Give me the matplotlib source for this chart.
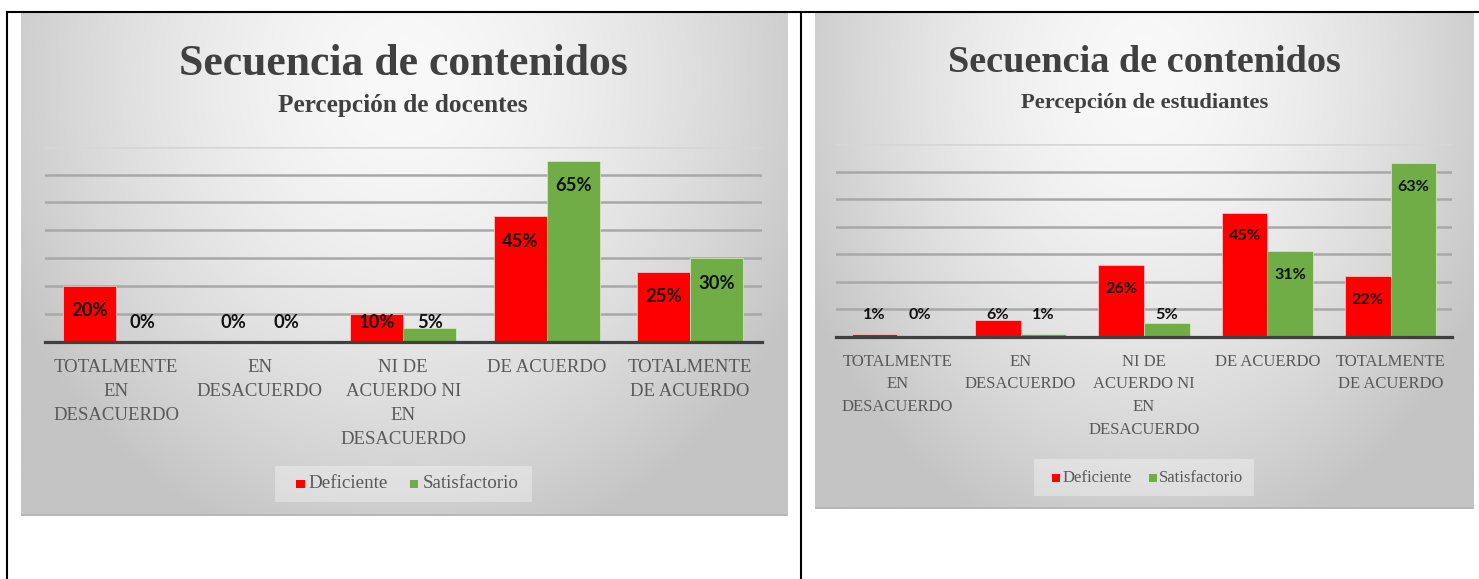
import numpy as np
import matplotlib
matplotlib.use("Agg")
import matplotlib.pyplot as plt
from matplotlib import font_manager
from matplotlib.lines import Line2D
from matplotlib.patches import Rectangle

# ------------------------------------------------------------------
# Data
# ------------------------------------------------------------------
categories = [
    "TOTALMENTE\nEN\nDESACUERDO",
    "EN\nDESACUERDO",
    "NI DE\nACUERDO NI\nEN\nDESACUERDO",
    "DE ACUERDO",
    "TOTALMENTE\nDE ACUERDO",
]
series_names = ["Deficiente", "Satisfactorio"]

docentes_deficiente = [20, 0, 10, 45, 25]
docentes_satisfactorio = [0, 0, 5, 65, 30]
estudiantes_deficiente = [1, 6, 26, 45, 22]
estudiantes_satisfactorio = [0, 1, 5, 31, 63]

chart_title = "Secuencia de contenidos"
subtitles = ["Percepción de docentes", "Percepción de estudiantes"]

RED = "#FF0000"
GREEN = "#70AD47"
TEXT = "#595959"
TITLE = "#404040"

_names = {f.name for f in font_manager.fontManager.ttflist}
SERIF = "Liberation Serif" if "Liberation Serif" in _names else "DejaVu Serif"
LABEL = "Lato" if "Lato" in _names else "DejaVu Sans"

W, H = 1479, 579
fig = plt.figure(figsize=(W / 100, H / 100), dpi=100)
fig.patch.set_facecolor("white")


def fx(x):
    return x / W


def fy(y):
    return 1 - y / H


def gradient(nx=300, ny=200):
    xs = np.linspace(0, 1, nx)
    ys = np.linspace(0, 1, ny)
    gx, gy = np.meshgrid(xs, ys)
    d = np.sqrt(((gx - 0.5) / 0.58) ** 2 + ((gy - 0.13) / 0.98) ** 2)
    t = np.clip(d, 0, 1) ** 1.6
    inner, outer = 249, 196
    v = (inner - (inner - outer) * t) / 255.0
    return np.dstack([v, v, v])


# layout of each panel in pixels of the 1479x579 picture
panels = [
    dict(bg=(21, 13, 787, 516), plot=(44.5, 146.7, 761.8, 341.5),
         cx=403.3, title_y=75, title_fs=31.5, sub_y=111.7, sub_fs=18.2,
         tick_fs=13.5, tick_first=25.7, tick_step=24.0,
         leg_box=(274.5, 465.7, 532, 501.8), leg_y=484,
         leg_x=(296, 308.7, 409.7, 422.4), leg_fs=13.7, sq=8.5,
         lab_fs=13.2, lab_off=9.0, lab_min=7.0),
    dict(bg=(815, 13, 1473, 509), plot=(835.7, 144, 1452.3, 336.7),
         cx=1144.2, title_y=72.2, title_fs=27.5, sub_y=108, sub_fs=16.2,
         tick_fs=12, tick_first=25.0, tick_step=22.7,
         leg_box=(1033.8, 459, 1253.5, 495.5), leg_y=478,
         leg_x=(1052, 1062.4, 1149.4, 1159), leg_fs=12, sq=7.5,
         lab_fs=11.6, lab_off=8.5, lab_min=7.9),
]


def draw_panel(p, defi, sati, subtitle):
    x0, y0, x1, y1 = p["bg"]
    bg = fig.add_axes([fx(x0), fy(y1), (x1 - x0) / W, (y1 - y0) / H])
    bg.imshow(gradient(), extent=[0, 1, 0, 1], aspect="auto",
              interpolation="bilinear", origin="upper")
    bg.axhline(0.002, color="#b5b5b5", lw=1.2)
    bg.set_xlim(0, 1)
    bg.set_ylim(0, 1)
    bg.axis("off")

    fig.text(fx(p["cx"]), fy(p["title_y"]), chart_title, ha="center",
             va="baseline", fontsize=p["title_fs"], fontweight="bold",
             family=SERIF, color=TITLE)
    fig.text(fx(p["cx"]), fy(p["sub_y"]), subtitle, ha="center",
             va="baseline", fontsize=p["sub_fs"], fontweight="bold",
             family=SERIF, color=TITLE)

    px0, py0, px1, py1 = p["plot"]
    ax = fig.add_axes([fx(px0), fy(py1), (px1 - px0) / W, (py1 - py0) / H])
    ax.set_facecolor("none")
    ax.set_xlim(-0.5, len(categories) - 0.5)
    ax.set_ylim(0, 70)
    ax.set_yticks(range(10, 80, 10))
    ax.set_xticks([])
    ax.tick_params(left=False, labelleft=False)
    for s in ax.spines.values():
        s.set_visible(False)
    ax.set_axisbelow(True)
    ax.grid(axis="y", color="#a8a8a8", lw=1.8)
    ax.yaxis.get_gridlines()[-1].set_color("#d6d6d6")
    ax.axhline(0, color="#404040", lw=2.3, zorder=3, clip_on=False)

    x = np.arange(len(categories))
    w = 0.37
    ax.bar(x - w / 2, defi, w, color=RED, edgecolor="#f4d0d0", lw=0.5, zorder=2)
    ax.bar(x + w / 2, sati, w, color=GREEN, edgecolor="#d8ecc8", lw=0.5, zorder=2)

    for xs, vals in ((x - w / 2, defi), (x + w / 2, sati)):
        for xi, v in zip(xs, vals):
            ax.text(xi, max(v - p["lab_off"], p["lab_min"]), f"{v}%",
                    ha="center", va="center", fontsize=p["lab_fs"],
                    fontweight="bold", family=LABEL, color="#111111", zorder=4)

    for i, cat in enumerate(categories):
        for k, line in enumerate(cat.split("\n")):
            ax.annotate(line, xy=(i, 0), xycoords="data",
                        xytext=(0, -(p["tick_first"] + k * p["tick_step"])),
                        textcoords="offset pixels", ha="center", va="center",
                        fontsize=p["tick_fs"], family=SERIF, color=TEXT,
                        annotation_clip=False)

    lx0, ly0, lx1, ly1 = p["leg_box"]
    fig.patches.append(Rectangle((fx(lx0), fy(ly1)), (lx1 - lx0) / W,
                                 (ly1 - ly0) / H, transform=fig.transFigure,
                                 facecolor="white", alpha=0.33, lw=0, zorder=5))
    sq = p["sq"]
    for (sx, tx), name, col in zip(((p["leg_x"][0], p["leg_x"][1]),
                                    (p["leg_x"][2], p["leg_x"][3])),
                                   series_names, (RED, GREEN)):
        fig.patches.append(Rectangle((fx(sx), fy(p["leg_y"] + sq / 2)),
                                     sq / W, sq / H, transform=fig.transFigure,
                                     facecolor=col, lw=0, zorder=6))
        fig.text(fx(tx), fy(p["leg_y"]), name, ha="left", va="center",
                 fontsize=p["leg_fs"], family=SERIF, color=TEXT, zorder=6)


draw_panel(panels[0], docentes_deficiente, docentes_satisfactorio, subtitles[0])
draw_panel(panels[1], estudiantes_deficiente, estudiantes_satisfactorio, subtitles[1])

# table borders
for xs, ys in (((7, W), (12, 12)), ((7, 7), (12, H)), ((800.7, 800.7), (12, H))):
    fig.add_artist(Line2D([fx(v) for v in xs], [fy(v) for v in ys],
                          transform=fig.transFigure, color="black", lw=1.5))

fig.savefig("out.png", dpi=100)
